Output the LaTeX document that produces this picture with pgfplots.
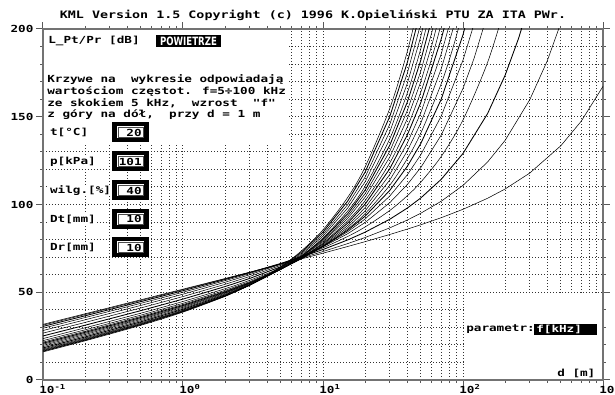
\documentclass[border=0pt]{standalone}
\usepackage{pgfplots}
\pgfplotsset{compat=1.18}
\usepackage{fontspec}
\newfontfamily\dosfont[FakeStretch=1.3]{DejaVu Sans Mono}
\newfontfamily\boxfontfam[FakeStretch=0.75]{DejaVu Sans}
\newcommand{\lab}{\dosfont\bfseries\fontsize{7.3pt}{8pt}\selectfont}
\newcommand{\ttl}{\dosfont\bfseries\fontsize{7.7pt}{9pt}\selectfont}
\newcommand{\bxf}{\boxfontfam\bfseries\fontsize{8.6pt}{9pt}\selectfont}
\newcommand{\field}[3]{%
  \node[anchor=west,fill=white,inner sep=0.6pt,font=\lab] at (49,#1) {#2};
  \fill[black] (112,#1-10) rectangle (149,#1+10);
  \fill[white] (117,#1-6) rectangle (144,#1+6);
  \draw[black!70,line width=0.4pt] (118.5,#1-5) rectangle (143,#1+5);
  \node[anchor=east,font=\lab,inner sep=0pt] at (142,#1) {#3};
}
\begin{document}
\begin{tikzpicture}[x=0.75pt,y=0.75pt]
\path[use as bounding box] (0,0) rectangle (615,395);
\begin{axis}[
  at={(32.25pt,11.25pt)}, anchor=south west,
  scale only axis, width=420pt, height=263.25pt,
  xmode=log, xmin=0.1, xmax=1000, ymin=0, ymax=200,
  xtick={0.1,1,10,100,1000},
  xticklabels={10\textsuperscript{-1},10\textsuperscript{0},10\textsuperscript{1},10\textsuperscript{2},10\textsuperscript{3}},
  ytick={0,50,100,150,200}, yticklabels={0,50,100,150,200},
  minor y tick num=4,
  grid=both,
  major grid style={black!80, line width=0.75pt, dash pattern=on 0.75pt off 1.5pt},
  minor grid style={black!80, line width=0.75pt, dash pattern=on 0.75pt off 1.5pt},
  tick align=outside,
  major tick length=5pt, minor tick length=2.25pt,
  every tick/.style={black!65, line width=0.75pt},
  axis line style={black!55, line width=1.1pt},
  ticklabel style={font=\lab, inner sep=0pt},
  yticklabel style={anchor=east, xshift=-2pt},
  xticklabel style={anchor=north west, xshift=-3pt, yshift=2pt},
  cycle list={{black, mark=none, line width=0.65pt, smooth}},
]
\addplot coordinates {(0.1,31.71) (0.2,37.73) (0.5,45.71) (1,51.76) (2,57.83) (3,61.41) (5,65.96) (7,68.99) (10,72.26) (15,76.06) (20,78.83) (30,82.91) (40,85.97) (50,88.46) (70,92.49) (100,97.26) (150,103.56) (200,108.84) (300,117.92) (500,133.48) (700,147.52) (1000,167.30)};
\addplot coordinates {(0.1,31.26) (0.2,37.30) (0.5,45.32) (1,51.44) (2,57.65) (3,61.37) (5,66.20) (7,69.52) (10,73.21) (15,77.71) (20,81.19) (30,86.68) (40,91.14) (50,95.04) (70,101.90) (100,110.89) (150,124.24) (200,136.56) (300,159.73) (400,181.88) (500,203.47)};
\addplot coordinates {(0.1,30.53) (0.2,36.59) (0.5,44.66) (1,50.88) (2,57.28) (3,61.19) (5,66.40) (7,70.09) (10,74.35) (15,79.80) (20,84.23) (30,91.60) (40,97.96) (50,103.75) (70,114.39) (100,129.06) (150,151.87) (200,173.65) (250,194.88) (300,215.74)};
\addplot coordinates {(0.1,29.50) (0.2,35.58) (0.5,43.71) (1,50.03) (2,56.64) (3,60.74) (5,66.36) (7,70.45) (10,75.31) (15,81.77) (20,87.21) (30,96.60) (40,104.97) (50,112.78) (70,127.45) (100,148.17) (150,181.06) (200,212.92)};
\addplot coordinates {(0.1,28.20) (0.2,34.30) (0.5,42.49) (1,48.90) (2,55.70) (3,60.00) (5,66.00) (7,70.48) (10,75.92) (15,83.34) (20,89.74) (30,101.06) (40,111.36) (50,121.10) (70,139.62) (100,166.12) (120,183.30) (150,208.64)};
\addplot coordinates {(0.1,26.69) (0.2,32.80) (0.5,41.05) (1,47.55) (2,54.52) (3,59.00) (5,65.35) (7,70.19) (10,76.16) (15,84.46) (20,91.75) (30,104.83) (40,116.90) (50,128.40) (70,150.46) (100,182.26) (120,202.97)};
\addplot coordinates {(0.1,25.09) (0.2,31.22) (0.5,39.52) (1,46.10) (2,53.24) (3,57.87) (5,64.55) (7,69.70) (10,76.15) (15,85.26) (20,93.35) (30,108.04) (40,121.72) (50,134.83) (70,160.10) (100,196.72) (120,220.65)};
\addplot coordinates {(0.1,23.61) (0.2,29.75) (0.5,38.09) (1,44.75) (2,52.03) (3,56.82) (5,63.79) (7,69.24) (10,76.13) (15,85.98) (20,94.81) (30,110.98) (40,126.13) (50,140.72) (70,168.95) (85,189.61) (100,210.00)};
\addplot coordinates {(0.1,22.42) (0.2,28.58) (0.5,36.96) (1,43.68) (2,51.11) (3,56.03) (5,63.28) (7,69.01) (10,76.32) (15,86.86) (20,96.38) (30,113.94) (40,130.48) (50,146.46) (70,177.46) (85,200.21) (100,222.68)};
\addplot coordinates {(0.1,21.58) (0.2,27.76) (0.5,36.18) (1,42.97) (2,50.53) (3,55.59) (5,63.10) (7,69.10) (10,76.81) (15,88.02) (20,98.20) (30,117.10) (40,134.97) (50,152.28) (70,185.96) (80,202.49)};
\addplot coordinates {(0.1,20.97) (0.2,27.16) (0.5,35.61) (1,42.47) (2,50.16) (3,55.35) (5,63.12) (7,69.38) (10,77.48) (15,89.35) (20,100.19) (30,120.39) (40,139.58) (50,158.20) (70,194.49) (75,203.43)};
\addplot coordinates {(0.1,20.38) (0.2,26.58) (0.5,35.08) (1,42.00) (2,49.82) (3,55.14) (5,63.17) (7,69.70) (10,78.19) (15,90.71) (20,102.20) (30,123.71) (40,144.20) (50,164.13) (60,183.70) (70,203.03)};
\addplot coordinates {(0.1,19.72) (0.2,25.94) (0.5,34.48) (1,41.46) (2,49.41) (3,54.87) (5,63.17) (7,69.95) (10,78.84) (15,92.02) (20,104.18) (30,127.01) (40,148.82) (50,170.07) (60,190.96) (70,211.62)};
\addplot coordinates {(0.1,19.01) (0.2,25.23) (0.5,33.81) (1,40.87) (2,48.95) (3,54.54) (5,63.11) (7,70.17) (10,79.46) (15,93.32) (20,106.15) (30,130.33) (40,153.50) (50,176.10) (60,198.34) (70,220.35)};
\addplot coordinates {(0.1,18.29) (0.2,24.53) (0.5,33.15) (1,40.28) (2,48.50) (3,54.23) (5,63.08) (7,70.41) (10,80.13) (15,94.68) (20,108.20) (30,133.78) (40,158.34) (50,182.33) (60,205.97)};
\addplot coordinates {(0.1,17.68) (0.2,23.93) (0.5,32.59) (1,39.79) (2,48.16) (3,54.03) (5,63.17) (7,70.79) (10,80.94) (15,96.21) (20,110.45) (30,137.47) (40,163.47) (50,188.90) (60,213.98)};
\addplot coordinates {(0.1,17.20) (0.2,23.47) (0.5,32.18) (1,39.45) (2,47.97) (3,53.99) (5,63.42) (7,71.35) (10,81.94) (15,97.96) (20,112.95) (30,141.46) (40,168.95) (50,195.88) (60,222.45)};
\addplot coordinates {(0.1,16.81) (0.2,23.09) (0.5,31.85) (1,39.19) (2,47.87) (3,54.05) (5,63.79) (7,72.02) (10,83.08) (15,99.88) (20,115.65) (30,145.71) (40,174.76) (50,203.24)};
\addplot coordinates {(0.1,16.43) (0.2,22.73) (0.5,31.54) (1,38.97) (2,47.80) (3,54.14) (5,64.21) (7,72.77) (10,84.31) (15,101.91) (20,118.49) (30,150.18) (40,180.84) (50,210.93)};
\addplot coordinates {(0.1,16.01) (0.2,22.33) (0.5,31.18) (1,38.69) (2,47.70) (3,54.21) (5,64.61) (7,73.50) (10,85.56) (15,104.00) (20,121.42) (30,154.79) (40,187.13) (50,218.91)};
\end{axis}
% blank areas without grid
\fill[white] (44,251) rectangle (287,365);
\fill[white] (464,16) rectangle (602,102);
% title
\node[font=\ttl,inner sep=0pt] at (313,380) {KML Version 1.5 Copyright (c) 1996 K.Opieliński PTU ZA ITA PWr.};
\node[font=\lab,anchor=west,inner sep=0pt] at (48,354) {L\_Pt/Pr [dB]};
\fill[black] (156,348) rectangle (221,360);
\node[font=\bxf,text=white,inner sep=0pt] at (188.5,354) {POWIETRZE};
\node[font=\lab,anchor=west,inner sep=0pt] at (47,315) {Krzywe na\ \ wykresie odpowiadają};
\node[font=\lab,anchor=west,inner sep=0pt] at (47,303.5) {wartościom częstot. f=5÷100 kHz};
\node[font=\lab,anchor=west,inner sep=0pt] at (47,292) {ze skokiem 5 kHz,\ \ wzrost\ \ "f"};
\node[font=\lab,anchor=west,inner sep=0pt] at (47,280.5) {z góry na dół,\ \ przy d = 1 m};
\field{262.5}{t[°C]}{20}
\field{233.5}{p[kPa]}{101}
\field{204.5}{wilg.[\%]}{40}
\field{176}{Dt[mm]}{10}
\field{147.5}{Dr[mm]}{10}
\node[font=\lab,anchor=west,inner sep=0pt] at (466,66) {parametr:};
\fill[black] (534,60) rectangle (597,71);
\node[font=\lab,text=white,anchor=west,inner sep=0pt] at (536,65.5) {f[kHz]};
\node[font=\lab,anchor=west,inner sep=0pt] at (557,22) {d [m]};
\end{tikzpicture}
\end{document}
